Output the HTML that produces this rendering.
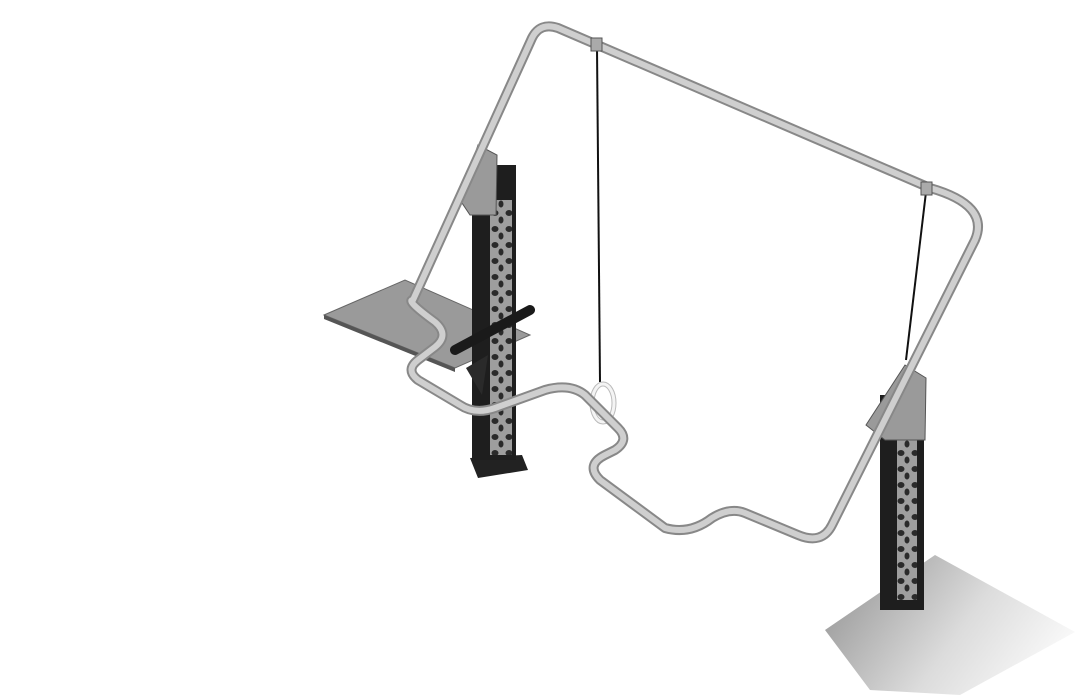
<!DOCTYPE html>
<html><head><meta charset="utf-8"><style>
html,body{margin:0;padding:0;background:#fff;width:1080px;height:700px;overflow:hidden}
</style></head><body>
<svg width="1080" height="700" viewBox="0 0 1080 700" xmlns="http://www.w3.org/2000/svg">
<defs>
<linearGradient id="pl" x1="0" y1="0.3" x2="1" y2="0.7">
<stop offset="0" stop-color="#9a9a9a"/><stop offset="0.55" stop-color="#dcdcdc"/><stop offset="1" stop-color="#fcfcfc"/>
</linearGradient>
<pattern id="cells" width="14" height="16" patternUnits="userSpaceOnUse">
<rect width="14" height="16" fill="#9e9e9e"/>
<ellipse cx="5" cy="5" rx="3.5" ry="3" fill="#2a2a2a"/>
<ellipse cx="11" cy="12" rx="2.5" ry="3.5" fill="#2a2a2a"/>
</pattern>
</defs>
<!-- right platform -->
<polygon points="825,630 935,555 1075,632 960,695 870,690" fill="url(#pl)"/>
<!-- left platform -->
<polygon points="324,315 405,280 530,335 455,368" fill="#9a9a9a" stroke="#666" stroke-width="1"/>
<polygon points="324,315 455,368 455,372 324,319" fill="#555"/>
<!-- left post -->
<polygon points="470,458 522,455 528,470 478,478" fill="#222"/>
<rect x="472" y="165" width="44" height="295" fill="#1e1e1e"/>
<rect x="490" y="200" width="22" height="255" fill="url(#cells)"/>
<polygon points="460,200 478,145 497,155 496,215 470,215" fill="#9a9a9a" stroke="#555"/>
<!-- handle -->
<line x1="455" y1="350" x2="530" y2="310" stroke="#1a1a1a" stroke-width="10" stroke-linecap="round"/>
<polygon points="466,368 488,355 482,395" fill="#2a2a2a"/>
<!-- right post -->
<rect x="880" y="395" width="44" height="215" fill="#1e1e1e"/>
<rect x="897" y="430" width="20" height="170" fill="url(#cells)"/>
<polygon points="866,425 905,365 926,378 925,440 885,440" fill="#9a9a9a" stroke="#555"/>
<!-- ropes -->
<line x1="597" y1="48" x2="600" y2="382" stroke="#111" stroke-width="2"/>
<line x1="926" y1="192" x2="906" y2="360" stroke="#111" stroke-width="2"/>
<ellipse cx="603" cy="403" rx="11" ry="19" fill="none" stroke="#bbb" stroke-width="5"/>
<ellipse cx="603" cy="403" rx="11" ry="19" fill="none" stroke="#f4f4f4" stroke-width="3"/>
<!-- tube -->
<g fill="none" stroke-linecap="round" stroke-linejoin="round">
<path d="M413,300 L532,38 Q540,22 558,28 L930,188 Q990,205 975,240 L832,525 Q822,545 798,535 L745,513 Q730,507 712,518 Q690,535 665,528 L600,480 Q585,465 605,455 L615,450 Q630,440 618,428 L585,395 Q570,383 545,390 L495,408 Q475,415 460,405 L418,380 Q405,370 418,360 L435,347 Q450,335 435,322 Q405,300 413,300 Z" stroke="#888" stroke-width="10"/>
<path d="M413,300 L532,38 Q540,22 558,28 L930,188 Q990,205 975,240 L832,525 Q822,545 798,535 L745,513 Q730,507 712,518 Q690,535 665,528 L600,480 Q585,465 605,455 L615,450 Q630,440 618,428 L585,395 Q570,383 545,390 L495,408 Q475,415 460,405 L418,380 Q405,370 418,360 L435,347 Q450,335 435,322 Q405,300 413,300 Z" stroke="#cfcfcf" stroke-width="6"/>
</g>
<!-- clamps -->
<rect x="591" y="38" width="11" height="13" fill="#aaa" stroke="#555"/>
<rect x="921" y="182" width="11" height="13" fill="#aaa" stroke="#555"/>
</svg>
</body></html>
